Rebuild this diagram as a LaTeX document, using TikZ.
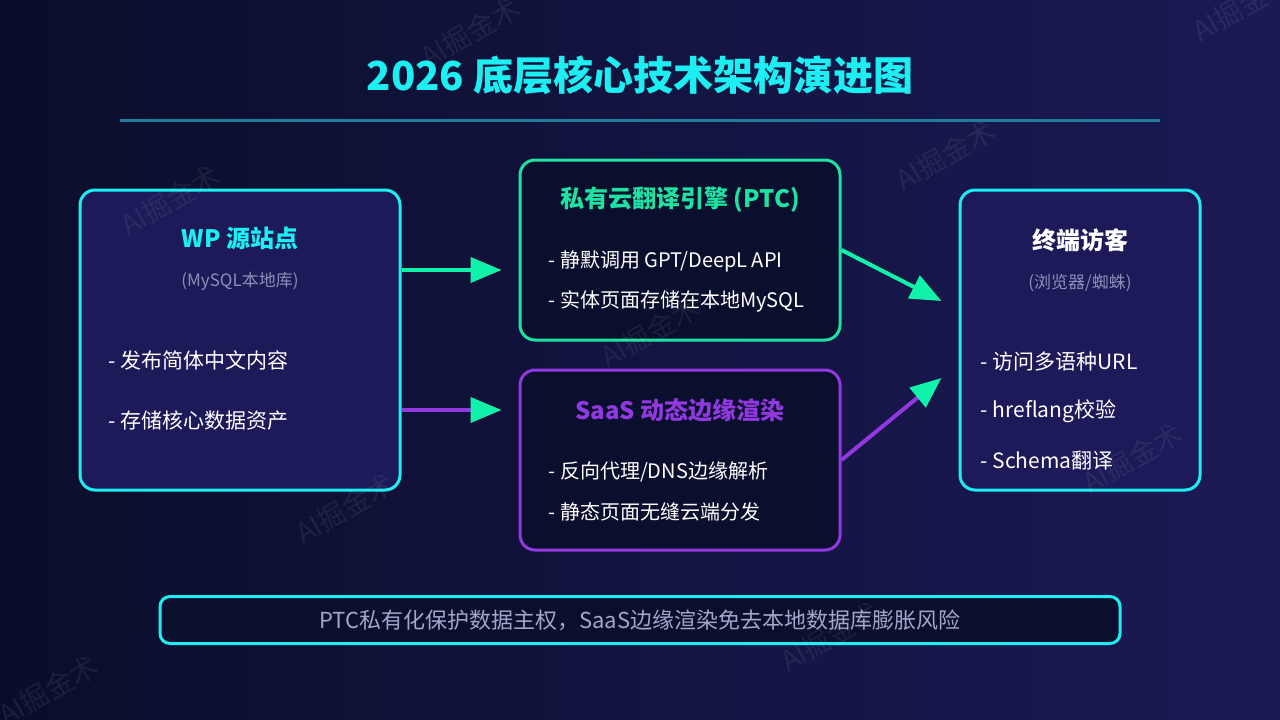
\documentclass[tikz,border=0pt]{standalone}
\usepackage{fontspec}
\setmainfont{Noto Sans CJK SC}
\usepackage{xcolor}
\usepackage{tikz}
\usetikzlibrary{arrows.meta,positioning,calc}
\definecolor{bgL}{HTML}{0A0D2A}
\definecolor{bgR}{HTML}{1B1A56}
\definecolor{cyanc}{HTML}{1CEEF2}
\definecolor{rulec}{HTML}{1B7F9C}
\definecolor{greenc}{HTML}{1EE2A2}
\definecolor{arrowg}{HTML}{10F2AA}
\definecolor{purplec}{HTML}{9138E0}
\definecolor{indigo}{HTML}{1C1A58}
\definecolor{deepc}{HTML}{0B0F2E}
\definecolor{subc}{HTML}{8A90B8}
\definecolor{notec}{HTML}{A0A7C8}
\tikzset{
  box/.style={draw, line width=3pt, rounded corners=15pt, inner sep=0pt},
  srcbox/.style={box, draw=cyanc, fill=indigo, minimum width=320pt, minimum height=300pt},
  ptcbox/.style={box, draw=greenc, fill=deepc, minimum width=320pt, minimum height=180pt},
  saasbox/.style={box, draw=purplec, fill=deepc, minimum width=320pt, minimum height=180pt},
  visbox/.style={box, draw=cyanc, fill=indigo, minimum width=240pt, minimum height=300pt},
  notebox/.style={box, draw=cyanc, fill=deepc, rounded corners=10pt, minimum width=960pt, minimum height=47pt},
  head/.style={font=\fontsize{24pt}{28pt}\selectfont\bfseries, inner sep=0pt},
  sub/.style={font=\fontsize{17pt}{20pt}\selectfont, text=subc, inner sep=0pt},
  item/.style={font=\fontsize{21pt}{25pt}\selectfont, text=white, anchor=west, inner sep=0pt},
  wmark/.style={font=\fontsize{28pt}{32pt}\selectfont, text=white, opacity=0.07, rotate=30},
  arrow/.style={line width=4pt, -{Triangle[length=31pt,width=25pt,color=arrowg]}}
}
\begin{document}
\begin{tikzpicture}[x=1pt,y=-1pt]
  % background
  \useasboundingbox (0,0) rectangle (1280,720);
  \shade[left color=bgL, right color=bgR] (0,0) rectangle (1280,720);

  % title
  \node[font=\fontsize{40pt}{46pt}\selectfont\bfseries, text=cyanc, inner sep=0pt] (title) at (640,75) {2026 底层核心技术架构演进图};
  \coordinate (ruleL) at (120,120);
  \coordinate (ruleR) at (1160,120);
  \draw[rulec, line width=3pt] (ruleL) -- (ruleR);

  % WP source
  \node[srcbox] (wp) at (240,340) {};
  \node[head, text=cyanc] (wpT) at ($(wp.north)+(0,50)$) {WP 源站点};
  \node[sub] (wpS) at ($(wp.north)+(0,93)$) {(MySQL本地库)};
  \node[item] (wp1) at ($(wp.north west)+(30,172)$) {- 发布简体中文内容};
  \node[item] (wp2) at ($(wp.north west)+(30,232)$) {- 存储核心数据资产};

  % PTC engine
  \node[ptcbox] (ptc) at (680,250) {};
  \node[head, text=greenc] (ptcT) at ($(ptc.north)+(0,41)$) {私有云翻译引擎 (PTC)};
  \node[item, font=\fontsize{20pt}{24pt}\selectfont] (ptc1) at ($(ptc.north west)+(30,103)$) {- 静默调用 GPT/DeepL API};
  \node[item, font=\fontsize{20pt}{24pt}\selectfont] (ptc2) at ($(ptc.north west)+(30,143)$) {- 实体页面存储在本地MySQL};

  % SaaS edge
  \node[saasbox] (saas) at (680,460) {};
  \node[head, text=purplec] (saasT) at ($(saas.north)+(0,42)$) {SaaS 动态边缘渲染};
  \node[item, font=\fontsize{20pt}{24pt}\selectfont] (saas1) at ($(saas.north west)+(30,103)$) {- 反向代理/DNS边缘解析};
  \node[item, font=\fontsize{20pt}{24pt}\selectfont] (saas2) at ($(saas.north west)+(30,143)$) {- 静态页面无缝云端分发};

  % visitors
  \node[visbox] (vis) at (1080,340) {};
  \node[head, text=white] (visT) at ($(vis.north)+(0,52)$) {终端访客};
  \node[sub] (visS) at ($(vis.north)+(0,95)$) {(浏览器/蜘蛛)};
  \node[item] (vis1) at ($(vis.north west)+(22,173)$) {- 访问多语种URL};
  \node[item] (vis2) at ($(vis.north west)+(22,223)$) {- hreflang校验};
  \node[item] (vis3) at ($(vis.north west)+(22,272)$) {- Schema翻译};

  % arrows
  \draw[arrow, arrowg] ($(wp.east)+(0,-70)$) -- ($(ptc.west)+(-17,20)$);
  \draw[arrow, purplec] ($(wp.east)+(0,70)$) -- ($(saas.west)+(-17,-50)$);
  \draw[arrow, arrowg] (ptc.east) -- ($(vis.west)+(-17,-39)$);
  \draw[arrow, purplec] (saas.east) -- ($(vis.west)+(-17,38)$);

  % note
  \node[notebox] (note) at (640,620) {};
  \node[font=\fontsize{22pt}{26pt}\selectfont, text=notec, inner sep=0pt] (noteT) at (note.center) {PTC私有化保护数据主权，SaaS边缘渲染免去本地数据库膨胀风险};

  % watermarks
  \foreach \wx/\wy [count=\wi] in {170/200, 470/32, 945/155, 650/332, 345/508, 1132/458, 830/636, 48/690, 1242/6}
    \node[wmark] (wm\wi) at (\wx,\wy) {AI掘金术};
\end{tikzpicture}
\end{document}
